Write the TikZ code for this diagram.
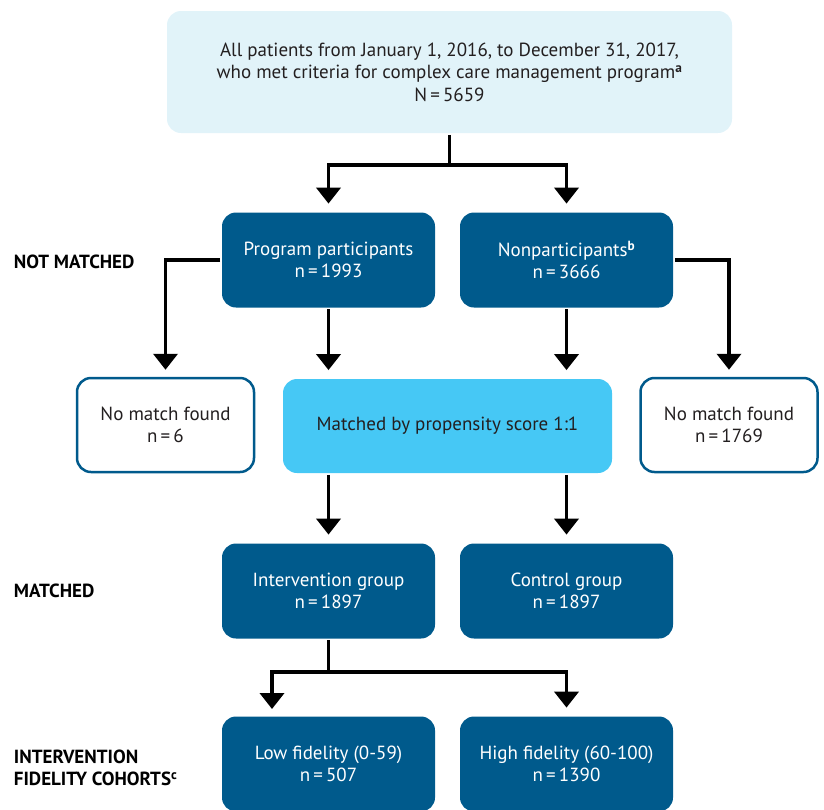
\documentclass[tikz,border=0pt]{standalone}
\usepackage{fontspec}
\setmainfont{PT Sans}
\usetikzlibrary{positioning}
\usetikzlibrary{arrows.meta}

\definecolor{darkblue}{RGB}{0,90,140}
\definecolor{paleblue}{RGB}{225,243,249}
\definecolor{skyblue}{RGB}{70,200,245}
\definecolor{inkgray}{RGB}{35,31,32}

\begin{document}
\begin{tikzpicture}[
            x = 1pt, y = -1pt, % pixel grid
            > = {Triangle[width=24pt,length=16pt]}, % arrow head style
            line width = 3.8pt, % connector width
            font = \fontsize{19}{22.5}\selectfont,
            box/.style = {rounded corners = 14pt, align = center, inner sep = 0pt},
            darkbox/.style = {box, fill = darkblue, text = white,
                              minimum width = 213pt, minimum height = 95pt},
            whitebox/.style = {box, draw = darkblue, line width = 2.5pt, fill = white,
                               text = inkgray, minimum width = 177pt, minimum height = 94pt},
            rowlabel/.style = {anchor = west, align = left, inner sep = 0pt, text = black,
                               font = \fontsize{19}{22}\selectfont\bfseries},
            arr/.style = {->, shorten > = 7pt} % don't touch arrow head to box
        ]

        \useasboundingbox (0,0) rectangle (824,809);

	% cohort
        \node[box, fill = paleblue, text = inkgray, minimum width = 565pt, minimum height = 122pt]
            (all) at (449.5,72) {All patients from January 1, 2016, to December 31, 2017,\\
            who met criteria for complex care management program\textsuperscript{\textbf{a}}\\
            N\,=\,5659};

	% not matched level
        \node[darkbox] (part) at (328.5,260) {Program participants\\ n\,=\,1993};
        \node[darkbox] (nonpart) at (566.5,260) {Nonparticipants\textsuperscript{\textbf{b}}\\ n\,=\,3666};
        \node[rowlabel] (notmatchedlbl) at (12,262) {NOT MATCHED};

        \coordinate (split1) at (449.5,165);
        \draw (all) -- (split1);
        \draw[arr] (split1) -| (part.north);
        \draw[arr] (split1) -| (nonpart.north);

	% propensity matching
        \node[whitebox] (nomatchL) at (165.5,425) {No match found\\ n\,=\,6};
        \node[box, fill = skyblue, text = inkgray, minimum width = 329pt, minimum height = 94pt]
            (matched) at (447.5,426) {Matched by propensity score 1:1};
        \node[whitebox] (nomatchR) at (729,425) {No match found\\ n\,=\,1769};

        \draw[arr] (part.west) -| (nomatchL.north);
        \draw[arr] (part) -- (part |- matched.north);
        \draw[arr] (nonpart) -- (nonpart |- matched.north);
        \draw[arr] (nonpart.east) -| (nomatchR.north);

	% matched level
        \node[darkbox] (interv) at (328.5,591) {Intervention group\\ n\,=\,1897};
        \node[darkbox] (control) at (566.5,591) {Control group\\ n\,=\,1897};
        \node[rowlabel] (matchedlbl) at (12,591) {MATCHED};

        \draw[arr] (interv |- matched.south) -- (interv.north);
        \draw[arr] (control |- matched.south) -- (control.north);

	% fidelity cohorts
        \node[darkbox] (low) at (328.5,764) {Low fidelity (0-59)\\ n\,=\,507};
        \node[darkbox] (high) at (566.5,764) {High fidelity (60-100)\\ n\,=\,1390};
        \node[rowlabel] (cohortlbl) at (12,768) {INTERVENTION\\ FIDELITY COHORTS\textsuperscript{c}};

        \coordinate (split2) at (328.5,672);
        \coordinate (lowin) at (272,716);
        \draw (interv) -- (split2);
        \draw[arr] (split2) -| (lowin);
        \draw[arr] (split2) -| (high.north);

\end{tikzpicture}
\end{document}
